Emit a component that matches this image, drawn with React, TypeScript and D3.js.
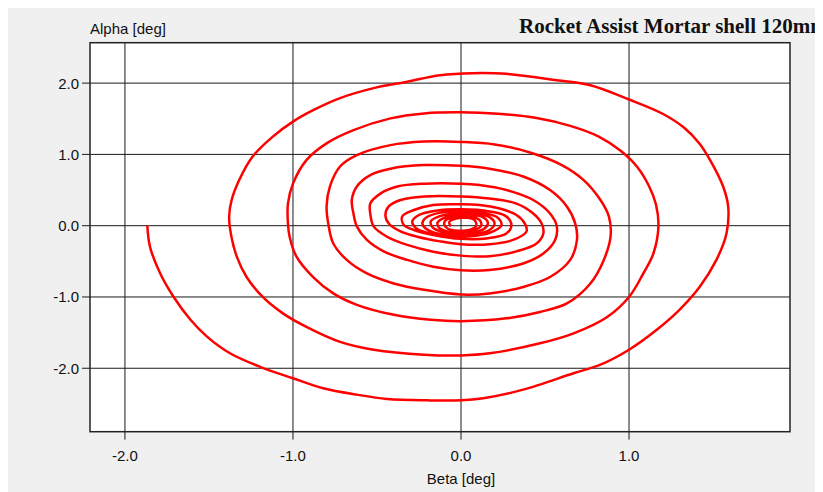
import React from "react";
import * as d3 from "d3";

const titleText = "Rocket Assist Mortar shell 120mm";
const xAxisLabel = "Beta [deg]";
const yAxisLabel = "Alpha [deg]";
const xTicks = [-2, -1, 0, 1];
const yTicks = [-2, -1, 0, 1, 2];

// Beta (x) values along the trajectory
const betaValues = [
  -1.867, -1.851, -1.79, -1.71, -1.61, -1.51, -1.375, -1.196, -1.0, -0.82, -0.62, -0.44, -0.2, 0.0, 0.133, 0.37, 0.67, 0.83, 1.0, 1.165, 1.3, 1.42, 1.52, 1.58, 1.59, 1.56, 1.48, 1.42, 1.33, 1.2, 1.0, 0.77, 0.57, 0.27, 0.07, -0.125, -0.32, -0.52, -0.72, -0.88, -1.0, -1.12, -1.24, -1.32, -1.365, -1.38,
  -1.37, -1.335, -1.276, -1.18, -1.06, -0.92, -0.72, -0.52, -0.22, 0.0, 0.17, 0.47, 0.67, 0.87, 1.0, 1.085, 1.145, 1.175, 1.16, 1.12, 1.05, 0.95, 0.82, 0.65, 0.45, 0.22, 0.0, -0.22, -0.42, -0.64, -0.8, -0.92, -1.0, -1.03, -1.03,
  -1.02, -0.98, -0.88, -0.76, -0.62, -0.4, -0.18, 0.0, 0.27, 0.47, 0.63, 0.77, 0.85, 0.89, 0.88, 0.83, 0.73, 0.6, 0.42, 0.2, 0.0, -0.22, -0.42, -0.62, -0.72, -0.78, -0.8,
  -0.79, -0.76, -0.68, -0.56, -0.4, -0.22, 0.0, 0.17, 0.37, 0.53, 0.65, 0.69, 0.68, 0.63, 0.53, 0.37, 0.17, 0.0, -0.22, -0.42, -0.54, -0.62, -0.65, -0.64,
  -0.62, -0.56, -0.46, -0.32, -0.165, 0.0, 0.17, 0.37, 0.49, 0.56, 0.57, 0.53, 0.43, 0.27, 0.11, 0.0, -0.22, -0.38, -0.48, -0.54, -0.54,
  -0.52, -0.44, -0.32, -0.165, 0.0, 0.17, 0.33, 0.45, 0.49, 0.48, 0.43, 0.33, 0.17, 0.0, -0.22, -0.36, -0.43, -0.45,
  -0.43, -0.36, -0.26, -0.125, 0.0, 0.17, 0.31, 0.39, 0.38, 0.33, 0.23, 0.11, 0.0, -0.165, -0.28, -0.35,
  -0.34, -0.28, -0.165, 0.0, 0.15, 0.27, 0.3, 0.27, 0.17, 0.0, -0.15, -0.25, -0.29,
  -0.27, -0.2, -0.08, 0.05, 0.17, 0.24, 0.22, 0.13, 0.0, -0.13, -0.21, -0.23,
  -0.21, -0.14, -0.03, 0.08, 0.17, 0.2, 0.17, 0.08, -0.03, -0.13, -0.18,
  -0.17, -0.11, -0.02, 0.07, 0.14, 0.16, 0.13, 0.05, -0.04, -0.11, -0.14,
  -0.13, -0.08, 0.0, 0.07, 0.12, 0.11, 0.05, -0.03, -0.09, -0.1,
  -0.08, -0.02, 0.05, 0.09, 0.08, 0.03, -0.03, -0.07, -0.06,
];

// Alpha (y) values along the trajectory
const alphaValues = [
  0.0, -0.295, -0.67, -1.0, -1.32, -1.56, -1.79, -1.98, -2.14, -2.28, -2.37, -2.43, -2.45, -2.45, -2.42, -2.3, -2.07, -1.95, -1.74, -1.46, -1.18, -0.86, -0.48, -0.11, 0.27, 0.55, 0.93, 1.15, 1.37, 1.57, 1.77, 1.97, 2.04, 2.13, 2.14, 2.11, 2.02, 1.93, 1.79, 1.62, 1.46, 1.25, 0.97, 0.64, 0.36, 0.13,
  -0.11, -0.43, -0.72, -1.0, -1.23, -1.42, -1.63, -1.74, -1.81, -1.82, -1.79, -1.65, -1.51, -1.28, -1.0, -0.67, -0.39, -0.01, 0.3, 0.55, 0.82, 1.05, 1.25, 1.4, 1.51, 1.57, 1.59, 1.575, 1.505, 1.34, 1.155, 0.92, 0.59, 0.31, 0.03,
  -0.155, -0.43, -0.72, -0.95, -1.11, -1.25, -1.32, -1.34, -1.3, -1.21, -1.09, -0.81, -0.48, -0.155, 0.13, 0.36, 0.64, 0.85, 1.02, 1.14, 1.175, 1.18, 1.13, 0.99, 0.83, 0.55, 0.27,
  0.03, -0.25, -0.48, -0.67, -0.81, -0.9, -0.965, -0.95, -0.86, -0.72, -0.48, -0.2, 0.03, 0.27, 0.5, 0.69, 0.8, 0.84, 0.85, 0.8, 0.71, 0.55, 0.36, 0.17,
  -0.01, -0.2, -0.36, -0.48, -0.575, -0.625, -0.62, -0.53, -0.39, -0.2, -0.01, 0.17, 0.36, 0.5, 0.57, 0.59, 0.59, 0.55, 0.45, 0.31, 0.17,
  -0.01, -0.155, -0.27, -0.365, -0.42, -0.43, -0.36, -0.25, -0.11, 0.03, 0.17, 0.31, 0.38, 0.41, 0.41, 0.36, 0.27, 0.15,
  0.03, -0.08, -0.155, -0.22, -0.26, -0.26, -0.2, -0.08, 0.03, 0.15, 0.24, 0.29, 0.3, 0.29, 0.22, 0.13,
  0.01, -0.06, -0.13, -0.185, -0.18, -0.11, 0.01, 0.13, 0.2, 0.23, 0.21, 0.15, 0.06,
  -0.03, -0.1, -0.15, -0.15, -0.1, 0.0, 0.11, 0.18, 0.2, 0.18, 0.11, 0.03,
  -0.04, -0.11, -0.14, -0.12, -0.06, 0.03, 0.12, 0.17, 0.17, 0.13, 0.06,
  -0.02, -0.09, -0.12, -0.1, -0.04, 0.04, 0.12, 0.15, 0.14, 0.1, 0.04,
  -0.03, -0.08, -0.1, -0.07, 0.0, 0.08, 0.13, 0.12, 0.08, 0.02,
  -0.04, -0.07, -0.06, 0.0, 0.08, 0.11, 0.1, 0.05, -0.01,
];

const W = 815;
const H = 484;
const plotLeft = 82;
const plotRight = 782;
const plotTop = 34.7;
const plotBottom = 423.7;

export default function App() {
  const x = d3.scaleLinear().domain([-2.208, 1.958]).range([plotLeft, plotRight]);
  const y = d3.scaleLinear().domain([-2.89, 2.567]).range([plotBottom, plotTop]);
  const fmt = (v: number) => d3.format(".1f")(v).replace("\u2212", "-");
  const pts: [number, number][] = betaValues.map((b, i) => [b, alphaValues[i]]);
  const line = d3
    .line<[number, number]>()
    .x((d) => x(d[0]))
    .y((d) => y(d[1]))
    .curve(d3.curveCatmullRom.alpha(0.5));
  const sans = "'Liberation Sans', Arial, sans-serif";
  const fs = 15;
  return (
    <>
      <style>{`html,body{overflow:hidden;}`}</style>
      <svg width={W} height={H} style={{ display: "block" }}>
        <rect x={0} y={0} width={W} height={H} fill="#f0f0f0" />
        <rect x={plotLeft} y={plotTop} width={plotRight - plotLeft} height={plotBottom - plotTop} fill="#ffffff" />
        <defs>
          <clipPath id="plotclip">
            <rect x={plotLeft} y={plotTop} width={plotRight - plotLeft} height={plotBottom - plotTop} />
          </clipPath>
        </defs>
        {xTicks.map((t) => (
          <g key={"xg" + t}>
            <line x1={x(t)} x2={x(t)} y1={plotTop} y2={plotBottom + 8} stroke="#1a1a1a" strokeWidth={1} />
            <text x={x(t)} y={plotBottom + 29} textAnchor="middle" fontFamily={sans} fontSize={fs} fill="#111">
              {fmt(t)}
            </text>
          </g>
        ))}
        {yTicks.map((t) => (
          <g key={"yg" + t}>
            <line x1={plotLeft - 8} x2={plotRight} y1={y(t)} y2={y(t)} stroke="#1a1a1a" strokeWidth={1} />
            <text x={plotLeft - 11} y={y(t) + 5.5} textAnchor="end" fontFamily={sans} fontSize={fs} fill="#111">
              {fmt(t)}
            </text>
          </g>
        ))}
        <path d={line(pts) || ""} fill="none" stroke="#ff0000" strokeWidth={2.5} strokeLinejoin="round" clipPath="url(#plotclip)" />
        <rect x={plotLeft} y={plotTop} width={plotRight - plotLeft} height={plotBottom - plotTop} fill="none" stroke="#222" strokeWidth={1.5} />
        <text x={plotLeft} y={26} fontFamily={sans} fontSize={fs} fill="#111">
          {yAxisLabel}
        </text>
        <text x={x(0)} y={H - 8} textAnchor="middle" fontFamily={sans} fontSize={fs} fill="#111">
          {xAxisLabel}
        </text>
        <text x={511} y={25} fontFamily="'Liberation Serif', 'Times New Roman', serif" fontWeight="bold" fontSize={21} fill="#111">
          {titleText}
        </text>
      </svg>
    </>
  );
}
